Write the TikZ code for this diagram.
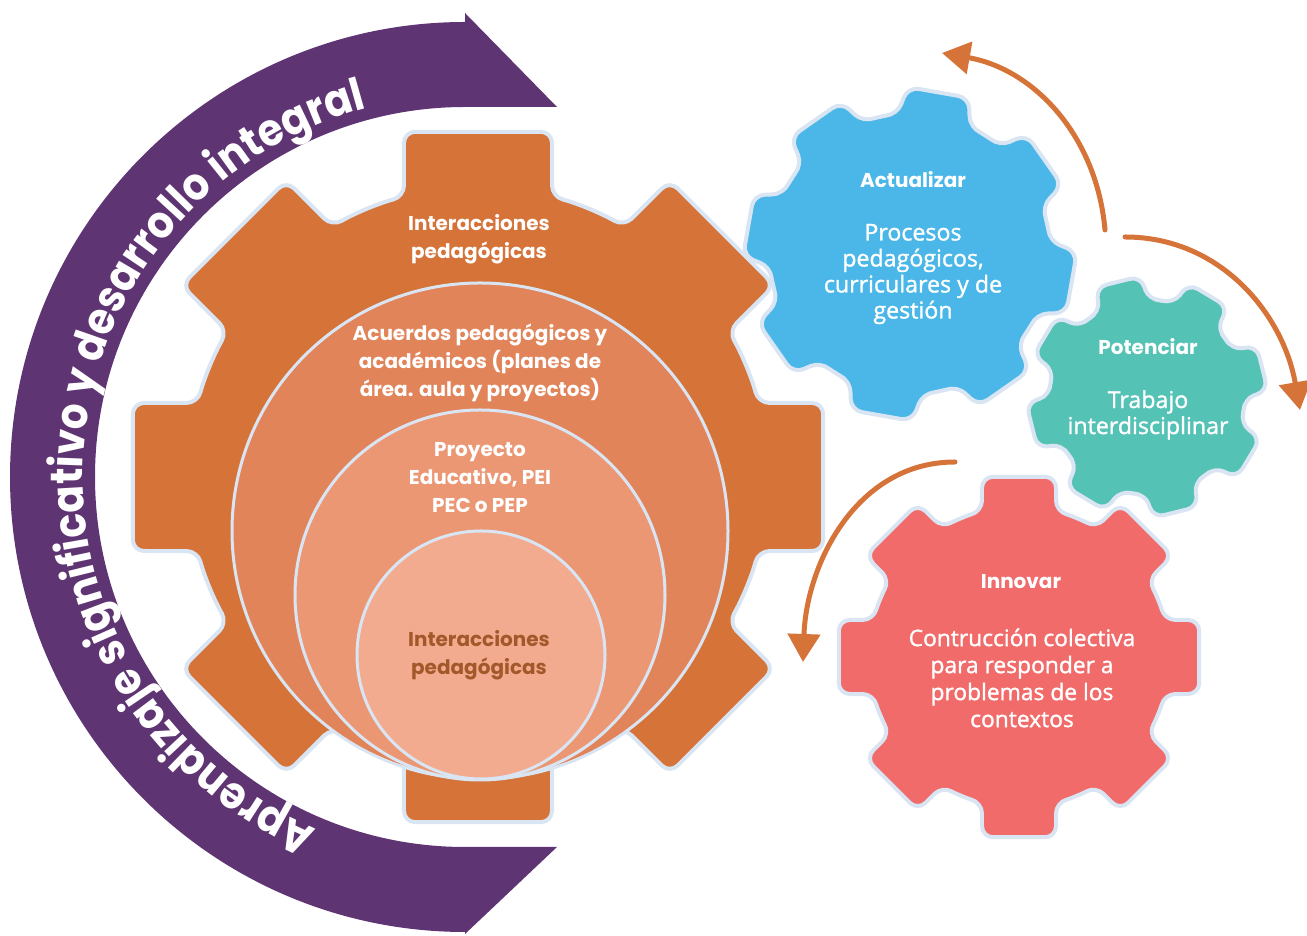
\documentclass[tikz,border=0pt]{standalone}
\usepackage{fontspec}
\setmainfont{Open Sans}
\newfontfamily\roundfont{Poppins}
\newfontfamily\bandfont{Poppins}[FakeStretch=0.9]
\newfontfamily\semifont{Open Sans}[FakeBold=1.3]
\usetikzlibrary{arrows.meta,decorations.text}

\definecolor{bandpurple}{HTML}{5F3473}
\definecolor{gearorange}{HTML}{D57338}
\definecolor{ringone}{HTML}{E2845A}
\definecolor{ringtwo}{HTML}{EB9774}
\definecolor{ringthree}{HTML}{F3AB90}
\definecolor{innertext}{HTML}{A3582A}
\definecolor{gearblue}{HTML}{4AB7E8}
\definecolor{gearteal}{HTML}{55C2B6}
\definecolor{gearred}{HTML}{F06B6A}
\definecolor{edge}{HTML}{DAE5F3}

% gear: centre, rotation, body radius, body half angle, tip radius, tip half angle, colour
\newcommand{\gear}[7]{%
  \begin{scope}[shift={#1}, rotate=#2]
    \pgfmathsetmacro\tipmid{#5*cos(#6)}
    \draw[gearline, fill=#7] (0:\tipmid)
      \foreach \ang in {0,45,...,315}{
        -- (\ang+#6:#5) -- (\ang+#4:#3)
        arc[start angle=\ang+#4, end angle=\ang+45-#4, radius=#3]
        -- (\ang+45-#6:#5)
      } -- cycle;
  \end{scope}}

\begin{document}
\begin{tikzpicture}[x=0.5pt, y=0.5pt,
    gearline/.style={draw=edge, line width=2pt, rounded corners=5.5pt},
    ring/.style={draw=edge, line width=1.5pt},
    flow/.style={draw=gearorange, line width=2.5pt, line cap=round,
      -{Triangle[width=16pt, length=14pt]}},
    headtext/.style={text=white, align=center,
      font=\roundfont\bfseries\fontsize{10}{14}\selectfont},
    bodytext/.style={text=white, align=center,
      font=\semifont\fontsize{11.6}{13}\selectfont}]

    \useasboundingbox (0,0) rectangle (1307,936);

    % purple band with its two heads
    \fill[bandpurple] (465,923) -- (465,914)
      arc[start angle=90, end angle=270, radius=455] -- (465,2) -- (557,89)
      -- (465,89) arc[start angle=270, end angle=90, radius=370]
      -- (557,829) -- cycle;
    \path[decorate, decoration={text along path, text align=center, text color=white,
      text={|\bandfont\bfseries\fontsize{22.5}{22.5}\selectfont|Aprendizaje significativo y desarrollo integral}}]
      (465,459) ++(253:382) arc[start angle=253, end angle=99, radius=382];

    % big gear and rings
    \gear{(478,459)}{0}{290}{14.8}{353}{12.1}{gearorange}
    \draw[ring, fill=ringone] (480,405) circle[radius=248];
    \draw[ring, fill=ringtwo] (480,341) circle[radius=185];
    \draw[ring, fill=ringthree] (481,281) circle[radius=124];

    \node[headtext] (toplabel) at (479,697) {Interacciones\\pedagógicas};
    \node[headtext] (acuerdos) at (480,573) {Acuerdos pedagógicos y\\académicos (planes de\\área. aula y proyectos)};
    \node[headtext] (proyecto) at (480,458) {Proyecto\\Educativo, PEI\\PEC o PEP};
    \node[headtext, text=innertext] (core) at (479,281) {Interacciones\\pedagógicas};

    % small gears
    \gear{(910,682)}{-10}{140}{15.3}{167}{10.7}{gearblue}
    \gear{(1019,279)}{0}{150}{14.3}{184}{11.6}{gearred}
    \gear{(1147,539)}{14}{97}{15}{121}{11}{gearteal}

    \node[headtext] (actualizar) at (913,756) {Actualizar};
    \node[bodytext] (procesos) at (913,662) {Procesos\\pedagógicos,\\curriculares y de\\gestión};
    \node[headtext] (potenciar) at (1148,589) {Potenciar};
    \node[bodytext] (trabajo) at (1148,521) {Trabajo\\interdisciplinar};
    \node[headtext] (innovar) at (1021,354) {Innovar};
    \node[bodytext, font=\semifont\fontsize{11.4}{13.5}\selectfont] (contruccion) at (1022,258)
      {Contrucción colectiva\\para responder a\\problemas de los\\contextos};

    % turning arrows
    \coordinate (upstart) at (1105,706);
    \coordinate (upend) at (942,883);
    \coordinate (rightstart) at (1125,699);
    \coordinate (rightend) at (1300,526);
    \coordinate (leftstart) at (955,474);
    \coordinate (leftend) at (803,274);
    \draw[flow] (upstart) to[out=95, in=-10] (upend);
    \draw[flow] (rightstart) to[out=0, in=100] (rightend);
    \draw[flow] (leftstart) to[out=180, in=88] (leftend);

\end{tikzpicture}
\end{document}
